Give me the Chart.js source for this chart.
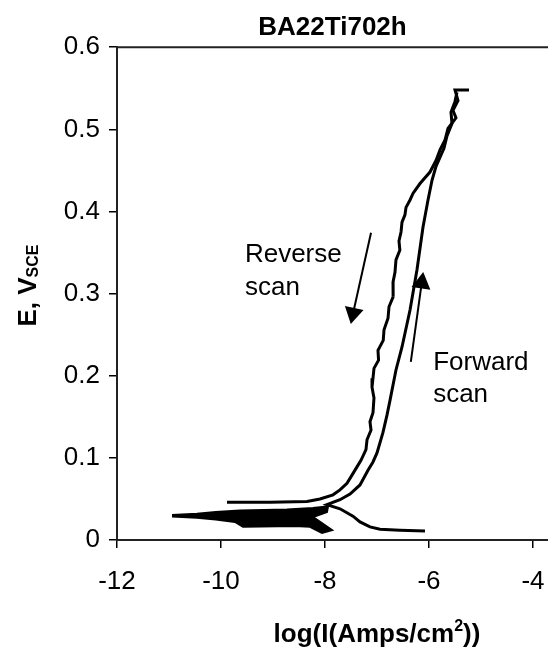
<!DOCTYPE html>
<html lang="en">
<head>
  <meta charset="UTF-8">
  <title>BA22Ti702h</title>
  <script src="https://cdn.jsdelivr.net/npm/chart.js"></script>
  <style>
    html, body { margin: 0; padding: 0; background: #fff; overflow: hidden; }
    #wrap { width: 548px; height: 648px; }
  </style>
</head>
<body>
  <div id="wrap"><canvas id="polChart" width="548" height="648"></canvas></div>

  <script>
    // axis ticks
    const xTicks = [-12, -10, -8, -6, -4];
    const yTicks = [0, 0.1, 0.2, 0.3, 0.4, 0.5, 0.6];

    // forward scan (log I, E)
    const fwdX = [-6.077, -6.558, -6.942, -7.135, -7.327, -7.462, -7.712, -7.962, -7.712, -7.519,
                  -7.327, -7.173, -7.077, -7.0, -6.885, -6.808, -6.75, -6.635, -6.519, -6.365,
                  -6.231, -6.115, -6.019, -5.942, -5.865, -5.712, -5.654, -5.558, -5.577, -5.5, -5.462];
    const fwdE = [0.011, 0.012, 0.013, 0.016, 0.022, 0.029, 0.038, 0.043, 0.049, 0.056,
                  0.067, 0.085, 0.095, 0.106, 0.131, 0.152, 0.170, 0.207, 0.235, 0.280,
                  0.329, 0.381, 0.414, 0.438, 0.455, 0.477, 0.492, 0.507, 0.521, 0.534, 0.545];

    // reverse scan (log I, E)
    const revX = [-5.231, -5.5, -5.442, -5.538, -5.481, -5.635, -5.692, -5.788, -5.865, -5.981,
                  -6.173, -6.308, -6.365, -6.442, -6.462, -6.519, -6.538, -6.577, -6.56, -6.635,
                  -6.654, -6.692, -6.69, -6.769, -6.788, -6.865, -6.88, -6.981, -6.97, -7.058,
                  -7.077, -7.096, -7.058, -7.077, -7.135, -7.115, -7.192, -7.212, -7.308, -7.385,
                  -7.481, -7.577, -7.712, -7.846, -8.096, -8.346, -9.058, -9.885];
    const revE = [0.548, 0.548, 0.535, 0.523, 0.514, 0.501, 0.487, 0.475, 0.462, 0.448,
                  0.434, 0.422, 0.414, 0.405, 0.396, 0.387, 0.375, 0.364, 0.353, 0.341,
                  0.326, 0.314, 0.296, 0.284, 0.270, 0.256, 0.243, 0.231, 0.219, 0.209,
                  0.197, 0.186, 0.173, 0.155, 0.144, 0.134, 0.122, 0.110, 0.097, 0.089,
                  0.079, 0.069, 0.061, 0.055, 0.050, 0.047, 0.046, 0.046];

    // noisy region near the corrosion potential (outline)
    const noiseX = [-10.942, -10.462, -10.1, -9.635, -8.731, -8.231, -7.942, -7.962, -8.231, -8.096,
                    -7.865, -8.058, -8.288, -8.577, -9.577, -9.731, -10.1, -10.462, -10.942];
    const noiseE = [0.0305, 0.032, 0.034, 0.036, 0.037, 0.039, 0.041, 0.034, 0.028, 0.022,
                    0.012, 0.0085, 0.016, 0.017, 0.016, 0.022, 0.025, 0.027, 0.0285];

    // arrows: [tail, head]
    const revArrowX = [-7.115, -7.46];
    const revArrowE = [0.374, 0.276];
    const fwdArrowX = [-6.35, -6.14];
    const fwdArrowE = [0.217, 0.313];

    // notes
    const noteText = ['Reverse', 'scan', 'Forward', 'scan'];
    const noteX = [-9.54, -9.54, -5.92, -5.92];
    const noteE = [0.338, 0.298, 0.207, 0.168];

    const FONT = '"Liberation Sans", Arial, sans-serif';
    const pts = (xs, ys) => xs.map((v, i) => ({ x: v, y: ys[i] }));

    // the plot runs off the right edge of the picture
    const stretchRight = {
      id: 'stretchRight',
      afterLayout(chart) {
        const a = chart.chartArea, x = chart.scales.x;
        a.right = chart.width;
        a.width = a.right - a.left;
        x.right = a.right;
        x.width = a.width;
        x.configure();
        if (chart.titleBlock) {
          chart.titleBlock.right = a.right;
          chart.titleBlock.width = a.width;
        }
      }
    };

    const extras = {
      id: 'extras',
      afterDraw(chart) {
        const { ctx, chartArea: a, scales: { x, y } } = chart;
        ctx.save();
        // top frame line
        ctx.strokeStyle = '#222';
        ctx.lineWidth = 2;
        ctx.beginPath();
        ctx.moveTo(a.left, a.top);
        ctx.lineTo(a.right, a.top);
        ctx.stroke();

        ctx.fillStyle = '#000';
        ctx.textBaseline = 'alphabetic';
        ctx.textAlign = 'left';
        ctx.font = '26px ' + FONT;
        noteText.forEach((t, i) => {
          ctx.fillText(t, x.getPixelForValue(noteX[i]), y.getPixelForValue(noteE[i]));
        });

        // x title with superscript
        const big = 'bold 26px ' + FONT, small = 'bold 16px ' + FONT;
        ctx.font = big;
        const w1 = ctx.measureText('log(I(Amps/cm').width;
        const w3 = ctx.measureText('))').width;
        ctx.font = small;
        const w2 = ctx.measureText('2').width;
        const cx = x.getPixelForValue(-7) - (w1 + w2 + w3) / 2;
        const by = 642;
        ctx.font = big;
        ctx.fillText('log(I(Amps/cm', cx, by);
        ctx.font = small;
        ctx.fillText('2', cx + w1, by - 11);
        ctx.font = big;
        ctx.fillText('))', cx + w1 + w2, by);

        // y title with subscript
        ctx.translate(27, (a.top + a.bottom) / 2 - 8);
        ctx.rotate(-Math.PI / 2);
        ctx.font = big;
        const v1 = ctx.measureText('E, V').width;
        ctx.font = small;
        const v2 = ctx.measureText('SCE').width;
        const sx = -(v1 + v2) / 2;
        ctx.font = big;
        ctx.fillText('E, V', sx, 9);
        ctx.font = small;
        ctx.fillText('SCE', sx + v1, 11);
        ctx.restore();
      }
    };

    const lineStyle = {
      showLine: true,
      borderColor: '#000',
      backgroundColor: '#000',
      borderWidth: 3,
      pointRadius: 0,
      tension: 0
    };

    const arrowStyle = {
      showLine: true,
      borderColor: '#000',
      borderWidth: 2,
      pointRadius: [0, 11],
      pointStyle: 'triangle',
      pointBackgroundColor: '#000',
      pointBorderWidth: 0
    };

    new Chart(document.getElementById('polChart'), {
      type: 'scatter',
      data: {
        datasets: [
          Object.assign({ label: 'noise', data: pts(noiseX, noiseE), fill: 'shape' }, lineStyle, { borderWidth: 2 }),
          Object.assign({ label: 'Forward scan', data: pts(fwdX, fwdE) }, lineStyle),
          Object.assign({ label: 'Reverse scan', data: pts(revX, revE) }, lineStyle),
          Object.assign({ label: 'rev arrow', data: pts(revArrowX, revArrowE), pointRotation: [0, 192] }, arrowStyle),
          Object.assign({ label: 'fwd arrow', data: pts(fwdArrowX, fwdArrowE), pointRotation: [0, 8] }, arrowStyle)
        ]
      },
      options: {
        responsive: false,
        animation: false,
        devicePixelRatio: 1,
        layout: { padding: 0 },
        plugins: {
          legend: { display: false },
          tooltip: { enabled: false },
          title: {
            display: true,
            text: 'BA22Ti702h',
            fullSize: false,
            color: '#000',
            font: { family: FONT, size: 26, weight: 'bold' },
            padding: { top: 12, bottom: 4 }
          }
        },
        scales: {
          x: {
            type: 'linear',
            min: -12,
            max: -12 + 431 / 52,
            afterBuildTicks: s => { s.ticks = xTicks.map(v => ({ value: v })); },
            afterFit: s => { s.height = 108; },
            ticks: { color: '#000', font: { family: FONT, size: 26 }, padding: 18 },
            grid: { drawOnChartArea: false, drawTicks: true, tickLength: 8, color: '#000', lineWidth: 1.5 },
            border: { display: true, color: '#222', width: 2 }
          },
          y: {
            type: 'linear',
            min: 0,
            max: 0.6,
            afterBuildTicks: s => { s.ticks = yTicks.map(v => ({ value: v })); },
            afterFit: s => { s.width = 117; },
            ticks: { color: '#000', font: { family: FONT, size: 26 }, padding: 9 },
            grid: { drawOnChartArea: false, drawTicks: true, tickLength: 8, color: '#000', lineWidth: 1.5 },
            border: { display: true, color: '#222', width: 2 }
          }
        }
      },
      plugins: [stretchRight, extras]
    });
  </script>
</body>
</html>
